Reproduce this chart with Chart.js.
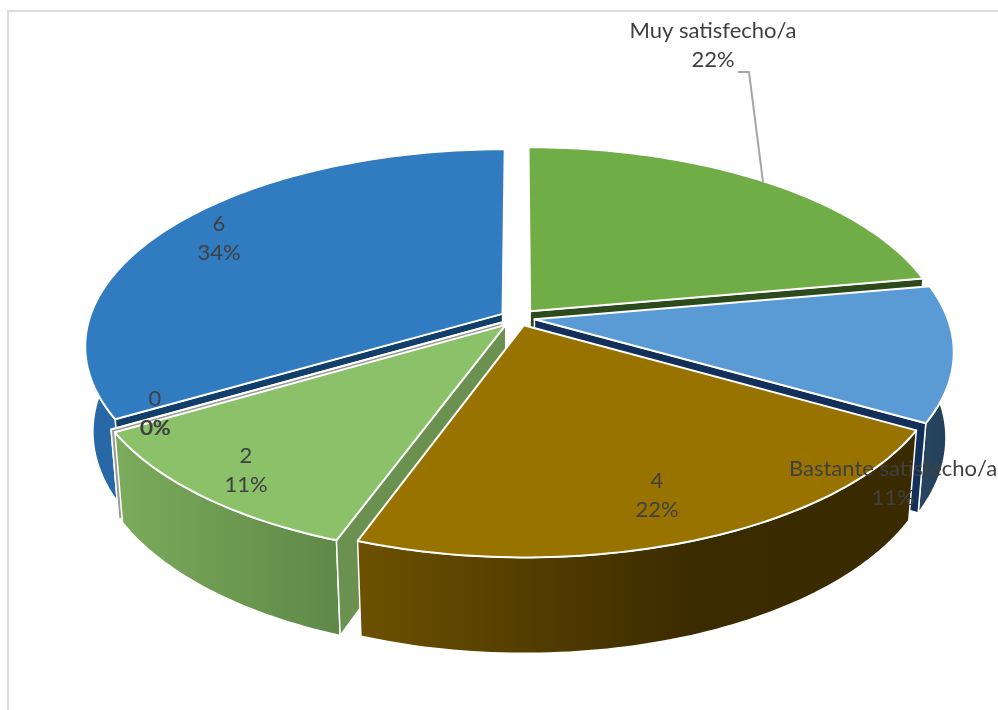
<!DOCTYPE html>
<html><head><meta charset="utf-8">
<style>html,body{margin:0;padding:0;background:#fff;overflow:hidden}
#wrap{position:absolute;left:0;top:0;width:998px;height:710px}
#frame{position:absolute;left:7px;top:10px;right:0;bottom:0;border-left:2px solid #dcdcdc;border-top:2px solid #dcdcdc}
canvas{position:absolute;left:0;top:0}</style>
<script src="https://cdn.jsdelivr.net/npm/chart.js@4/dist/chart.umd.min.js"></script>
</head><body><div id="wrap"><div id="frame"></div><canvas id="c" width="998" height="710"></canvas></div>
<script>
const categories = ["Muy satisfecho/a", "Bastante satisfecho/a", "4", "2", "0", "6"];
const percentages = [22.2, 11.1, 22.3, 11.0, 0, 33.5];
const topColors = ["#70ad47", "#5b9bd5", "#997300", "#8bc168", "#dfe6da", "#317cc0"];

const sliceOffsets = [16, 14, 14, 16, 16, 15];
const wallColors = ["#2c4a1c", "#12305a", "#4a3800", "#6a9150", "#9a9a9a", "#123f6a"];
const sideShades = [
  ["#2c4a1c", "#2c4a1c"], ["#27445f", "#22405a"], ["#6d5100", "#3b2b00", "#3a2a00"],
  ["#7cab5c", "#5f8948"], ["#9a9a9a", "#9a9a9a"], ["#2868a6", "#2565a0"]
];
const labelCentres = [[713, 31], [893, 469], [657, 481], [246, 456], [155, 399], [219, 224]];
const view = { cx: 518, cy: 318, f: 2577, k: 1200, D: 6.24, H: 536, g: 0.11 };

function project(X, Y, h) {
  const d = view.D - Y + view.g * h;
  return [view.cx + view.f * X / d, view.cy + (view.k * Y + view.H * h) / d];
}
function trace(ctx, pts) {
  ctx.beginPath();
  pts.forEach((p, i) => i ? ctx.lineTo(p[0], p[1]) : ctx.moveTo(p[0], p[1]));
  ctx.closePath();
}
const pie3d = {
  id: "pie3d",
  beforeDatasetDraw(chart) {
    const ctx = chart.ctx, arcs = chart.getDatasetMeta(0).data;
    const order = arcs.map((a, i) => i).sort((p, q) => {
      const m = i => (arcs[i].startAngle + arcs[i].endAngle) / 2 + Math.PI / 2;
      return -Math.cos(m(p)) + Math.cos(m(q));
    });
    ctx.save();
    ctx.lineJoin = "round";
    order.forEach(i => {
      const a = arcs[i];
      const t0 = a.startAngle + Math.PI / 2, t1 = a.endAngle + Math.PI / 2, mid = (t0 + t1) / 2;
      const e = a.options.offset / a.outerRadius;
      const ox = e * Math.sin(mid), oy = -e * Math.cos(mid);
      const pt = (r, t, h) => project(ox + r * Math.sin(t), oy - r * Math.cos(t), h);
      const steps = Math.max(1, Math.ceil((t1 - t0) / 0.02));
      const rimTop = [], rimBot = [];
      for (let s = 0; s <= steps; s++) {
        const t = t0 + (t1 - t0) * s / steps;
        rimTop.push(pt(1, t, 0));
        rimBot.push(pt(1, t, 1));
      }
      ctx.strokeStyle = "#ffffff";
      // outer wall
      const xs = rimTop.map(p => p[0]);
      const lo = Math.min(...xs), hi = Math.max(...xs);
      const shades = sideShades[i];
      const grad = ctx.createLinearGradient(lo, 0, Math.max(hi, lo + 1), 0);
      shades.forEach((c, n) => grad.addColorStop(shades.length === 3 ? [0, 0.6, 1][n] : n / (shades.length - 1), c));
      trace(ctx, rimTop.concat(rimBot.slice().reverse()));
      ctx.fillStyle = grad;
      ctx.fill();
      ctx.lineWidth = 1.5;
      ctx.stroke();
      // radial walls that face the viewer
      [[t0, -Math.sin(t0)], [t1, Math.sin(t1)]].forEach(([t, facing]) => {
        if (facing <= 0.01) return;
        trace(ctx, [pt(0, t, 0), pt(1, t, 0), pt(1, t, 1), pt(0, t, 1)]);
        ctx.fillStyle = wallColors[i];
        ctx.fill();
        ctx.lineWidth = 1.5;
        ctx.stroke();
      });
      // top face
      trace(ctx, [pt(0, t0, 0)].concat(rimTop));
      ctx.fillStyle = topColors[i];
      ctx.fill();
      ctx.lineWidth = 2;
      ctx.stroke();
    });
    ctx.restore();
    return false;
  },
  afterDatasetsDraw(chart) {
    const ctx = chart.ctx;
    ctx.save();
    // leader line for the first label
    ctx.strokeStyle = "#a6a6a6";
    ctx.lineWidth = 2;
    ctx.beginPath();
    ctx.moveTo(738, 72); ctx.lineTo(749, 72); ctx.lineTo(763, 182);
    ctx.stroke();
    ctx.font = "22px Lato, 'Open Sans', sans-serif";
    ctx.textAlign = "center";
    ctx.textBaseline = "middle";
    ctx.fillStyle = "#404040";
    categories.forEach((name, i) => {
      const [x, y] = labelCentres[i];
      ctx.fillText(name, x, y);
      const pct = Math.round(percentages[i]) + "%";
      ctx.fillText(pct, x, y + 29);
      if (percentages[i] === 0) ctx.fillText(pct, x + 0.7, y + 29);
    });
    ctx.restore();
  }
};
new Chart(document.getElementById("c"), {
  type: "pie",
  data: { labels: categories, datasets: [{ data: percentages, backgroundColor: topColors, offset: sliceOffsets, borderWidth: 0 }] },
  options: {
    responsive: false, animation: false,
    layout: { padding: 0 },
    plugins: { legend: { display: false }, tooltip: { enabled: false }, title: { display: false } }
  },
  plugins: [pie3d]
});
</script></body></html>
